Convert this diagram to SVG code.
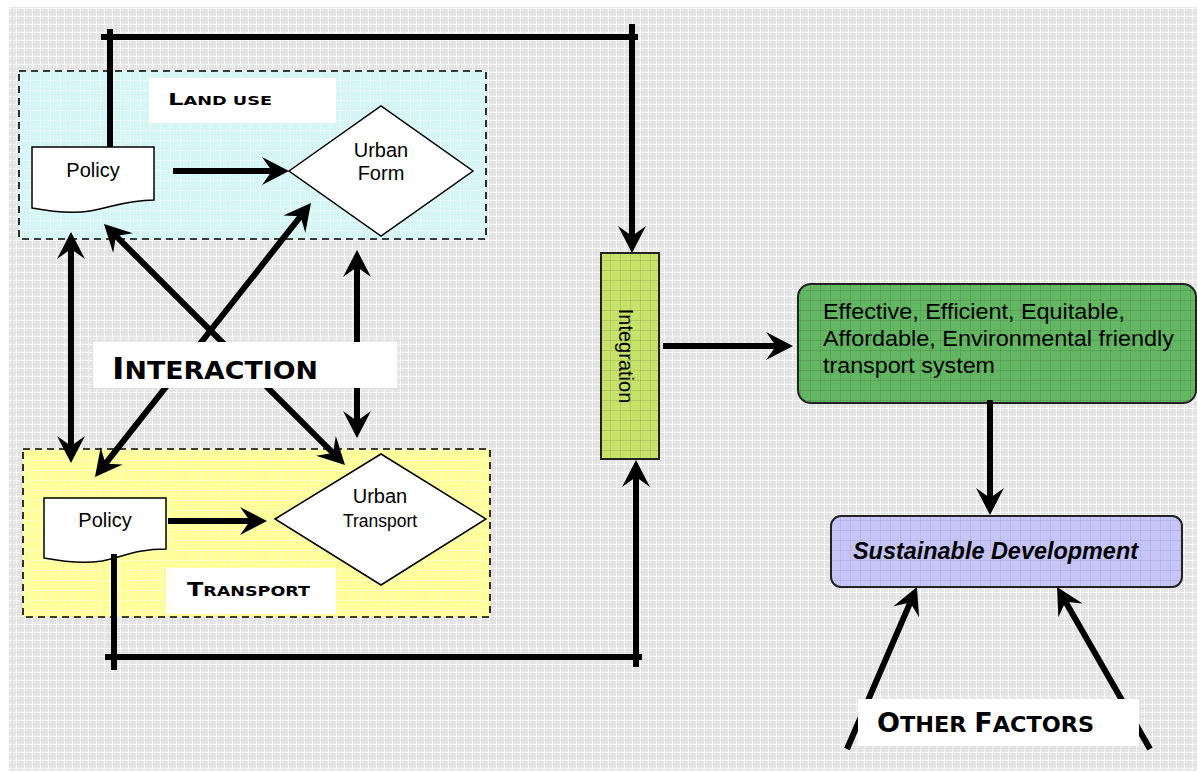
<svg xmlns="http://www.w3.org/2000/svg" width="1197" height="771" viewBox="0 0 1197 771">
<defs>
<style>
.lbl{font-family:"DejaVu Sans","Liberation Sans",sans-serif;font-weight:bold;fill:#000}
.t{font-family:"Liberation Sans",Arial,sans-serif;fill:#000}
.shape{stroke:#000;stroke-width:1.5;fill:#fff}
.dash{stroke:#000;stroke-width:1.6;stroke-dasharray:7 5}
.conn{stroke:#000;stroke-width:6;fill:none}
.arr{stroke:#000;stroke-width:6;fill:none;marker-end:url(#ah)}
.arr2{stroke:#000;stroke-width:6;fill:none;marker-start:url(#ah);marker-end:url(#ah)}
.white{fill:#fff}
</style>
<marker id="ah" markerUnits="userSpaceOnUse" viewBox="-14 -17 34 34" markerWidth="34" markerHeight="34" refX="0" refY="0" orient="auto-start-reverse">
<path d="M17,0 L-10,-14 L0,0 L-10,14 Z" fill="#000"/>
</marker>
<pattern id="bg" width="8" height="8" patternUnits="userSpaceOnUse">
<rect width="8" height="8" fill="#e6e6e6"/>
<rect width="8" height="1" fill="#f5f5f5"/>
<rect width="1" height="8" fill="#f5f5f5"/>
<rect y="4" width="8" height="1" fill="#dcdcdc" opacity="0.6"/>
<rect x="4" width="1" height="8" fill="#dcdcdc" opacity="0.6"/>
</pattern>
<pattern id="gl" width="10" height="10" patternUnits="userSpaceOnUse">
<path d="M0 0.5H10M0.5 0V10" stroke="#000" stroke-opacity="0.1" stroke-width="1"/>
</pattern>
<pattern id="gw" width="10" height="10" patternUnits="userSpaceOnUse">
<path d="M0 0.5H10M0.5 0V10" stroke="#fff" stroke-opacity="0.4" stroke-width="1"/>
</pattern>
</defs>

<rect x="0" y="0" width="1197" height="771" fill="#fff"/>
<rect x="9" y="7" width="1188" height="764" fill="url(#bg)"/>

<g id="landuse-box">
<rect x="19" y="71" width="467" height="168" fill="#d6f5f5"/>
<rect x="19" y="71" width="467" height="168" fill="url(#gw)"/>
<rect x="19" y="71" width="467" height="168" fill="none" class="dash"/>
<rect x="149" y="78" width="187" height="45" class="white"/>
<text class="lbl" x="168" y="105" textLength="104" lengthAdjust="spacingAndGlyphs"><tspan font-size="16.5">L</tspan><tspan font-size="12">AND USE</tspan></text>
</g>

<g id="transport-box">
<rect x="23" y="449" width="467" height="168" fill="#ffff99"/>
<rect x="23" y="449" width="467" height="168" fill="url(#gw)"/>
<rect x="23" y="449" width="467" height="168" fill="none" class="dash"/>
<rect x="166" y="568" width="170" height="46" class="white"/>
<text class="lbl" x="187" y="596" textLength="123" lengthAdjust="spacingAndGlyphs"><tspan font-size="19">T</tspan><tspan font-size="14">RANSPORT</tspan></text>
</g>

<g id="policy-land">
<path class="shape" d="M32,147 L154,147 L154,200 C125,200 110,208 90,211 C70,214 48,211 32,208 Z"/>
<text class="t" x="93" y="177" font-size="20" text-anchor="middle">Policy</text>
</g>

<g id="urban-form">
<path class="shape" d="M289,171 L381,106 L473,171 L381,236 Z"/>
<text class="t" x="381" y="157" font-size="20" text-anchor="middle">Urban</text>
<text class="t" x="381" y="180" font-size="20" text-anchor="middle">Form</text>
</g>

<g id="policy-transport">
<path class="shape" d="M44,498 L166,498 L166,549 C137,549 122,557 102,561 C82,564 60,561 44,558 Z"/>
<text class="t" x="105" y="527" font-size="20" text-anchor="middle">Policy</text>
</g>

<g id="urban-transport">
<path class="shape" d="M275,519 L381,454 L486,519 L381,585 Z"/>
<text class="t" x="380" y="503" font-size="20" text-anchor="middle">Urban</text>
<text class="t" x="380" y="527" font-size="17.5" text-anchor="middle">Transport</text>
</g>

<g id="integration">
<rect x="601" y="253" width="58" height="206" fill="#c6e26a"/>
<rect x="601" y="253" width="58" height="206" fill="url(#gl)"/>
<rect x="601" y="253" width="58" height="206" fill="none" stroke="#222" stroke-width="2"/>
<text class="t" font-size="20" text-anchor="middle" transform="translate(619,356) rotate(90)">Integration</text>
</g>

<g id="transport-system">
<rect x="798" y="284" width="398" height="119" rx="13" fill="#63b763"/>
<rect x="798" y="284" width="398" height="119" rx="13" fill="url(#gl)"/>
<rect x="798" y="284" width="398" height="119" rx="13" fill="none" stroke="#222" stroke-width="2"/>
<text class="t" x="823" y="319" font-size="22" textLength="302" lengthAdjust="spacingAndGlyphs">Effective, Efficient, Equitable,</text>
<text class="t" x="823" y="346" font-size="22" textLength="351" lengthAdjust="spacingAndGlyphs">Affordable, Environmental friendly</text>
<text class="t" x="823" y="373" font-size="22" textLength="172" lengthAdjust="spacingAndGlyphs">transport system</text>
</g>

<g id="sustainable">
<rect x="831" y="516" width="351" height="71" rx="10" fill="#c4c4f6"/>
<rect x="831" y="516" width="351" height="71" rx="10" fill="url(#gl)" opacity="0.6"/>
<rect x="831" y="516" width="351" height="71" rx="10" fill="none" stroke="#222" stroke-width="2"/>
<text class="t" x="853" y="559" font-size="23.5" font-weight="bold" font-style="italic" textLength="285" lengthAdjust="spacingAndGlyphs">Sustainable Development</text>
</g>

<g id="connectors">
<path class="conn" d="M110,147 V29"/>
<path class="conn" d="M101,37 H638"/>
<path class="arr" d="M632,24 V236"/>
<path class="conn" d="M114,554 V670"/>
<path class="conn" d="M105,657 H642"/>
<path class="arr" d="M636,667 V477"/>
<path class="arr" d="M173,171 H272"/>
<path class="arr" d="M168,521 H250"/>
<path class="arr" d="M663,346 H776"/>
<path class="arr" d="M990,400 V498"/>
<path class="arr" d="M847,749 L910.2,602.6"/>
<path class="arr" d="M1150,749 L1065.5,601.7"/>
<path class="arr2" d="M71,249 V446"/>
<path class="arr2" d="M357,267 V421"/>
<path class="arr2" d="M116,236 L333,453"/>
<path class="arr2" d="M300.5,216.3 L105.5,463.7"/>
</g>

<g id="interaction">
<rect x="93" y="342" width="304" height="46" class="white"/>
<text class="lbl" x="112" y="379" textLength="206" lengthAdjust="spacingAndGlyphs"><tspan font-size="30">I</tspan><tspan font-size="24">NTERACTION</tspan></text>
</g>

<g id="other-factors">
<rect x="858" y="699" width="281" height="47" class="white"/>
<text class="lbl" x="877" y="732" textLength="217" lengthAdjust="spacingAndGlyphs"><tspan font-size="26">O</tspan><tspan font-size="21.5">THER </tspan><tspan font-size="26">F</tspan><tspan font-size="21.5">ACTORS</tspan></text>
</g>
</svg>
